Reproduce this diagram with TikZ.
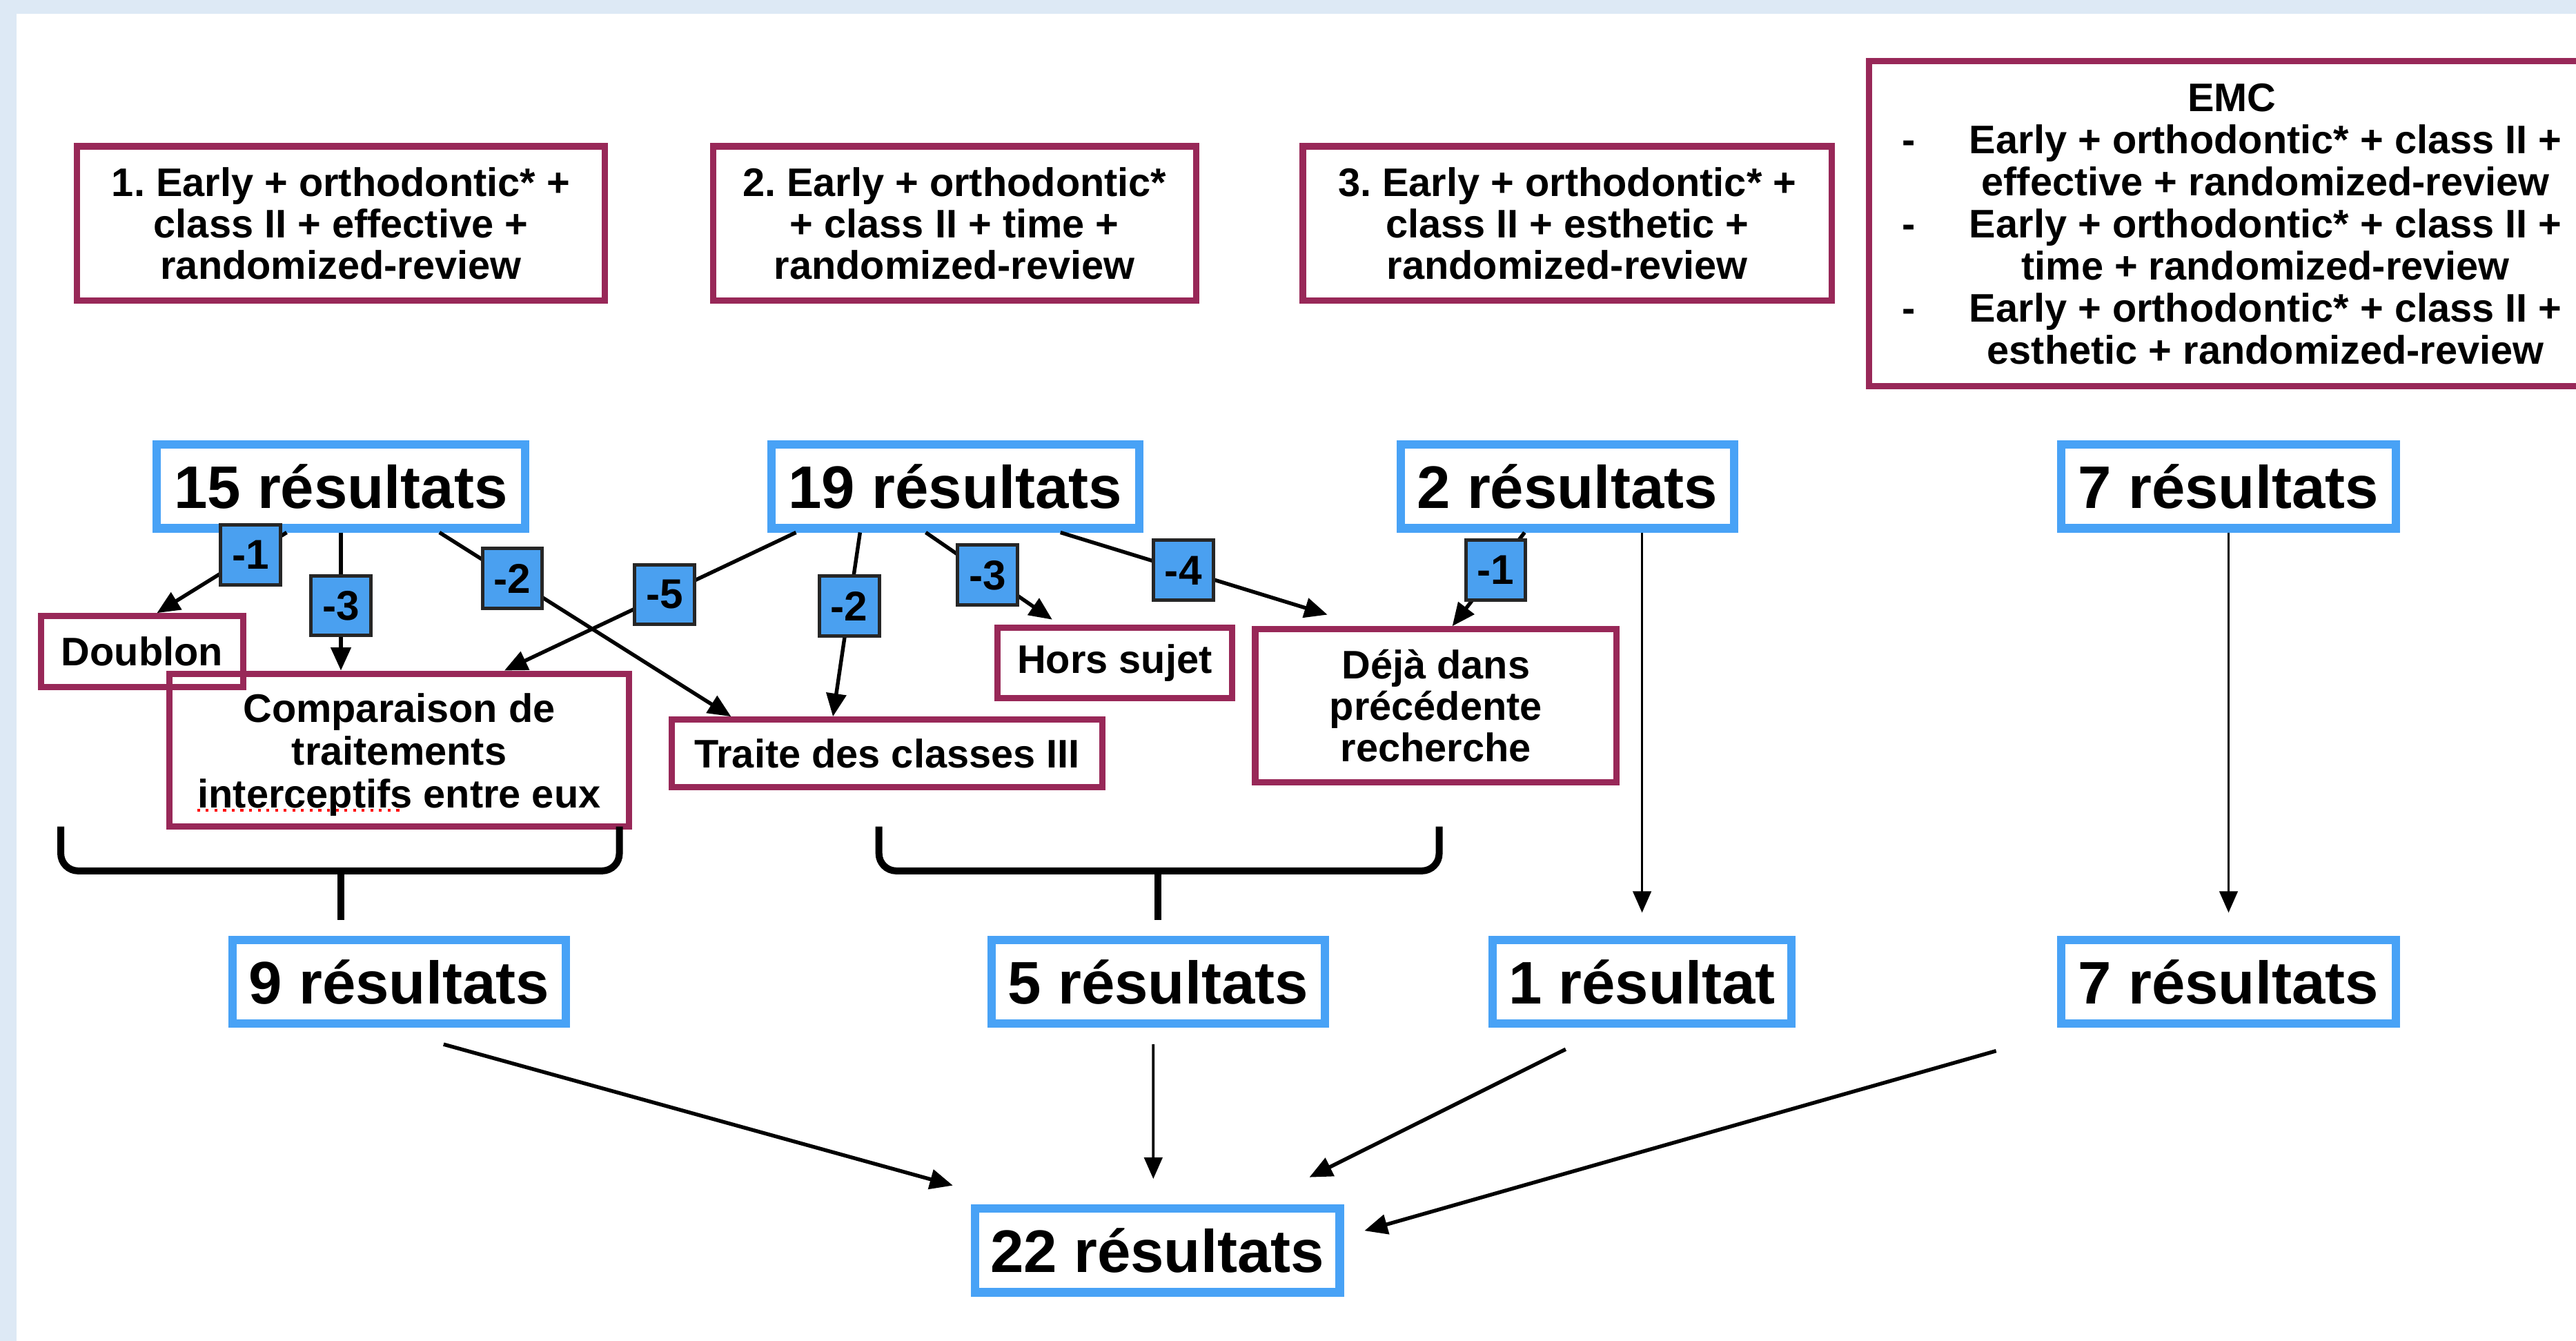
\documentclass[tikz,border=0pt]{standalone}
\usepackage{fontspec}
\setmainfont{Liberation Sans}
\usetikzlibrary{arrows.meta}
\frenchspacing

\definecolor{resblue}{RGB}{72,162,246}
\definecolor{tagblue}{RGB}{74,160,240}
\definecolor{querypurple}{RGB}{152,40,88}
\definecolor{pageblue}{RGB}{221,233,245}

\tikzset{
    resbox/.style={draw=resblue, line width=1.45pt, inner sep=0pt, minimum height=0.51cm,
        font=\bfseries\fontsize{10.4}{12}\selectfont},
    querybox/.style={draw=querypurple, line width=1.1pt, inner sep=0pt, align=center,
        font=\bfseries\fontsize{6.9}{7.2}\selectfont},
    minustag/.style={draw=black!85, fill=tagblue, line width=0.6pt, inner sep=0pt,
        minimum size=0.365cm, font=\bfseries\fontsize{7.2}{8}\selectfont},
    flowarrow/.style={line width=0.65pt, -{Triangle[length=1.4mm,width=1.2mm]}},
    thinarrow/.style={line width=0.45pt, -{Triangle[length=1.3mm,width=1.1mm]}},
    bracket/.style={line width=1.2pt, rounded corners=3pt}
}

\begin{document}
\begin{tikzpicture}
    \useasboundingbox (0,0) rectangle (15.68,-8.16);
    \fill[pageblue] (0,0) rectangle (15.68,-0.085);
    \fill[pageblue] (0,0) rectangle (0.10,-8.16);

    \node[querybox, minimum width=3.21cm, minimum height=0.94cm] (q1) at (2.075,-1.36)
        {1. Early + orthodontic* +\\class II + effective +\\randomized-review};
    \node[querybox, minimum width=2.94cm, minimum height=0.94cm] (q2) at (5.81,-1.36)
        {2. Early + orthodontic*\\+ class II + time +\\randomized-review};
    \node[querybox, minimum width=3.22cm, minimum height=0.94cm] (q3) at (9.54,-1.36)
        {3. Early + orthodontic* +\\class II + esthetic +\\randomized-review};
    \node[querybox, minimum width=4.42cm, minimum height=1.98cm] (emc) at (13.585,-1.36)
        {\fontsize{6.9}{7.3}\selectfont
         \raisebox{-0.035cm}[\height][\depth]{\begin{tabular}{@{}l@{\hspace{0.33cm}}c@{}}
         \multicolumn{2}{c}{EMC}\\
         - & Early + orthodontic* + class II +\\
           & effective + randomized-review\\
         - & Early + orthodontic* + class II +\\
           & time + randomized-review\\
         - & Early + orthodontic* + class II +\\
           & esthetic + randomized-review
         \end{tabular}}};

    \node[resbox, minimum width=2.24cm] (r15) at (2.075,-2.96) {15 résultats};
    \node[resbox, minimum width=2.24cm] (r19) at (5.815,-2.96) {19 résultats};
    \node[resbox, minimum width=2.03cm] (r2) at (9.54,-2.96) {2 résultats};
    \node[resbox, minimum width=2.04cm] (r7) at (13.565,-2.96) {7 résultats};

    \node[querybox, minimum width=1.23cm, minimum height=0.43cm] (dbl) at (0.865,-3.965) {Doublon};
    \node[querybox, minimum width=2.80cm, minimum height=0.93cm] (cmp) at (2.43,-4.565)
        {\fontsize{6.9}{7.4}\selectfont
         \raisebox{-0.04cm}[\height][\depth]{\begin{tabular}{@{}c@{}}Comparaison de\\traitements\\interceptifs entre eux\end{tabular}}};
    \node[querybox, minimum width=2.62cm, minimum height=0.41cm] (trt) at (5.40,-4.585) {Traite des classes III};
    \node[querybox, minimum width=1.43cm, minimum height=0.43cm] (hs) at (6.785,-4.035) {Hors sujet};
    \node[querybox, minimum width=2.20cm, minimum height=0.93cm] (dj) at (8.74,-4.295)
        {Déjà dans\\précédente\\recherche};
    \draw[red, densely dotted, line width=0.5pt] (1.20,-4.93) -- (2.46,-4.93);

    \node[resbox, minimum width=2.03cm] (r9) at (2.43,-5.975) {9 résultats};
    \node[resbox, minimum width=2.03cm] (r5) at (7.05,-5.975) {5 résultats};
    \node[resbox, minimum width=1.82cm] (r1) at (9.995,-5.975) {1 résultat};
    \node[resbox, minimum width=2.04cm] (r7b) at (13.565,-5.975) {7 résultats};
    \node[resbox, minimum width=2.22cm] (r22) at (7.045,-7.61) {22 résultats};

    \draw[flowarrow] ([xshift=-0.33cm]r15.south) -- node[minustag, pos=0.28] {-1} ([xshift=0.09cm]dbl.north);
    \draw[flowarrow] (r15.south) -- node[minustag, pos=0.53] {-3} ([xshift=-0.355cm]cmp.north);
    \draw[flowarrow] ([xshift=0.6cm]r15.south) -- node[minustag, pos=0.25] {-2} ([xshift=-0.95cm]trt.north);

    \draw[flowarrow] ([xshift=-0.97cm]r19.south) -- node[minustag, pos=0.45] {-5} ([xshift=0.64cm]cmp.north);
    \draw[flowarrow] ([xshift=-0.58cm]r19.south) -- node[minustag, pos=0.40] {-2} ([xshift=-0.33cm]trt.north);
    \draw[flowarrow] ([xshift=-0.18cm]r19.south) -- node[minustag, pos=0.49] {-3} ([xshift=-0.38cm,yshift=0.03cm]hs.north);
    \draw[flowarrow] ([xshift=0.64cm]r19.south) -- node[minustag, pos=0.46] {-4} ([xshift=-0.66cm,yshift=0.07cm]dj.north);

    \draw[flowarrow] ([xshift=-0.26cm]r2.south) -- node[minustag, pos=0.40] {-1} ([xshift=0.10cm]dj.north);
    \draw[thinarrow] ([xshift=0.455cm]r2.south) -- ([yshift=0.14cm]r1.north);
    \draw[thinarrow] (r7.south) -- ([yshift=0.14cm]r7b.north);

    \draw[bracket] (0.37,-5.03) -- (0.37,-5.30) -- (3.77,-5.30) -- (3.77,-5.03);
    \draw[bracket] (2.075,-5.30) -- (2.075,-5.60);
    \draw[bracket] (5.35,-5.03) -- (5.35,-5.30) -- (8.76,-5.30) -- (8.76,-5.03);
    \draw[bracket] (7.05,-5.30) -- (7.05,-5.60);

    \draw[flowarrow] ([xshift=0.27cm,yshift=-0.1cm]r9.south) -- ([xshift=-1.245cm,yshift=0.115cm]r22.north);
    \draw[thinarrow] ([xshift=-0.03cm,yshift=-0.1cm]r5.south) -- ([xshift=-0.025cm,yshift=0.155cm]r22.north);
    \draw[flowarrow] ([xshift=-0.465cm,yshift=-0.13cm]r1.south) -- ([xshift=0.925cm,yshift=0.165cm]r22.north);
    \draw[flowarrow] ([xshift=-1.415cm,yshift=-0.14cm]r7b.south) -- ([xshift=0.125cm,yshift=0.12cm]r22.east);
\end{tikzpicture}
\end{document}
